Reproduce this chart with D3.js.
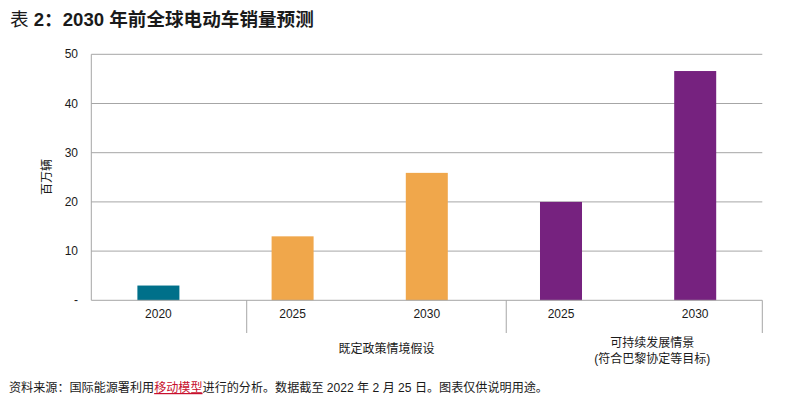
<!DOCTYPE html>
<html><head><meta charset="utf-8">
<script src="https://cdn.jsdelivr.net/npm/d3@7"></script>
<style>
body{margin:0;background:#fff;}
text{font-family:Arial,"Liberation Sans","Noto Sans CJK SC",sans-serif;fill:#1a1a1a;}
</style></head><body>
<svg id="c" width="785" height="407"></svg>
<script>
const categories = ["2020","2025","2030","2025","2030"];
const values = [3.0, 13.0, 25.9, 20.0, 46.6];
const colorGroups = ["base","steps","steps","sds","sds"];
const yTicks = [0,10,20,30,40,50];
const yTickLabels = ["-","10","20","30","40","50"];
const groupLabels = [["既定政策情境假设"],["可持续发展情景","(符合巴黎协定等目标)"]];
const separatorIdx = [1.158, 3.092, 5];
const groupCenterIdx = [2.20, 4.18];
const colors = {base:"#00708A", steps:"#F0A74B", sds:"#76227F"};

const svg = d3.select("#c");
const L=91.3, R=762.3, T=54.3, B=300.3;
const x = d3.scaleBand().domain(d3.range(categories.length)).range([L,R]).paddingInner(0.687).paddingOuter(0.3435);
const xi = d3.scaleLinear().domain([0,categories.length]).range([L,R]);
const y = d3.scaleLinear().domain([0,50]).range([B,T]);
const grid="#A6A6A6";

svg.append("g").selectAll("line").data(yTicks.filter(d=>d>0)).join("line")
  .attr("x1",L).attr("x2",R).attr("y1",d=>y(d)).attr("y2",d=>y(d))
  .attr("stroke",grid).attr("stroke-width",1);
svg.append("g").selectAll("text").data(yTicks).join("text")
  .attr("x",78).attr("y",d=>y(d)+4).attr("text-anchor","end")
  .attr("font-size",12).text((d,i)=>yTickLabels[i]);
svg.append("text").attr("transform","translate(51,177) rotate(-90)")
  .attr("text-anchor","middle").attr("font-size",12).text("百万辆");

svg.append("g").selectAll("rect").data(values).join("rect")
  .attr("x",(d,i)=>x(i)).attr("width",x.bandwidth())
  .attr("y",d=>y(d)).attr("height",d=>y(0)-y(d))
  .attr("fill",(d,i)=>colors[colorGroups[i]]);

svg.append("line").attr("x1",L).attr("x2",L).attr("y1",T).attr("y2",B).attr("stroke",grid);
svg.append("line").attr("x1",L).attr("x2",R).attr("y1",B).attr("y2",B).attr("stroke",grid);
svg.append("g").selectAll("line").data(separatorIdx).join("line")
  .attr("x1",d=>xi(d)).attr("x2",d=>xi(d)).attr("y1",B).attr("y2",333)
  .attr("stroke",grid);

svg.append("g").selectAll("text").data(categories).join("text")
  .attr("x",(d,i)=>x(i)+x.bandwidth()/2).attr("y",318).attr("text-anchor","middle")
  .attr("font-size",12).text(d=>d);
groupLabels.forEach((lines,g)=>{
  const n=lines.length;
  lines.forEach((t,k)=>{
    svg.append("text").attr("x",xi(groupCenterIdx[g]))
      .attr("y",(n===1?353:347+k*16)).attr("text-anchor","middle")
      .attr("font-size",12).text(t);
  });
});

const title = svg.append("text").attr("x",10).attr("y",26).attr("font-size",18.6).attr("font-weight","bold");
title.append("tspan").attr("font-weight","normal").text("表 ");
title.append("tspan").text("2：2030 年前全球电动车销量预测");

const fn = svg.append("text").attr("x",9).attr("y",392).attr("font-size",12.1);
fn.append("tspan").text("资料来源：国际能源署利用");
fn.append("tspan").attr("fill","#C8102E").style("fill","#C8102E").attr("text-decoration","underline").text("移动模型");
fn.append("tspan").text("进行的分析。数据截至 2022 年 2 月 25 日。图表仅供说明用途。");
</script></body></html>
